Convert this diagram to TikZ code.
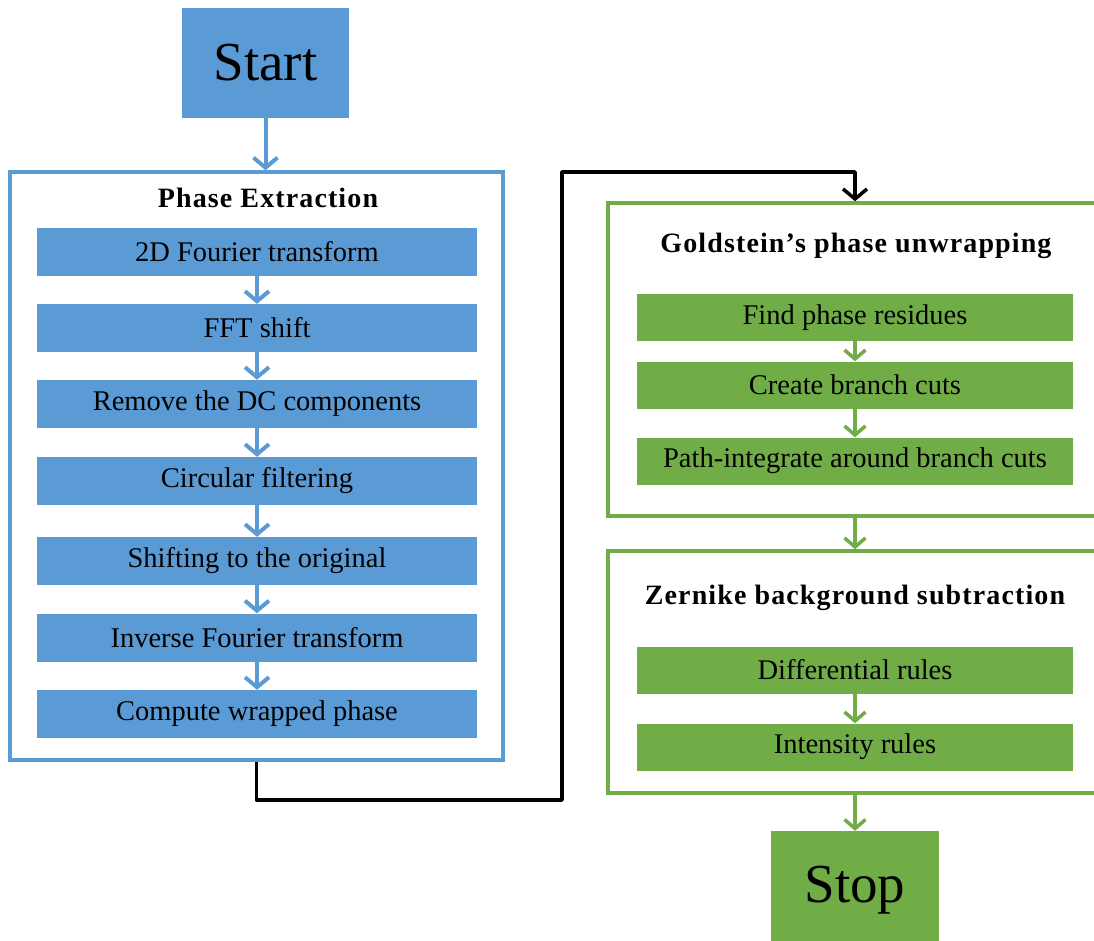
\documentclass[tikz,border=0pt]{standalone}
\usepackage{fontspec}
\setmainfont{Liberation Serif}
\usetikzlibrary{arrows.meta}
\definecolor{pblue}{HTML}{5B9BD5}
\definecolor{pgreen}{HTML}{70AD47}

\tikzset{
  stepbox/.style={draw=none, inner sep=0pt, minimum height=48pt,
    font=\fontsize{28.5}{32}\selectfont},
  bluestep/.style={stepbox, fill=pblue, minimum width=440pt},
  greenstep/.style={stepbox, fill=pgreen, minimum width=436pt, minimum height=47pt},
  frame/.style={line width=3.5pt, fill=white, inner sep=0pt},
  endbox/.style={inner sep=0pt, font=\fontsize{55}{60}\selectfont},
  heading/.style={inner sep=0pt,
    font=\fontsize{28}{32}\selectfont\bfseries\addfontfeature{LetterSpace=4}},
  barrow/.style={draw=pblue, line width=4pt, -{Straight Barb[length=10pt,width=24pt]}},
  garrow/.style={draw=pgreen, line width=3.5pt, -{Straight Barb[length=9pt,width=21pt]}},
  karrow/.style={draw=black, line width=3.5pt, line join=round,
    -{Straight Barb[length=10pt,width=24pt]}}
}

\begin{document}
\begin{tikzpicture}[x=1pt,y=-1pt]
\useasboundingbox (0,0) rectangle (1094,940);
\clip (0,0) rectangle (1094,940);

% start and the phase-extraction frame
\node[endbox, fill=pblue, minimum width=167pt, minimum height=110pt] (start) at (265.5,63) {Start};
\node[frame, draw=pblue, minimum width=493pt, minimum height=588pt] (outer) at (256.5,466) {};
\node[heading] (ttlA) at (268,198) {Phase Extraction};

\node[bluestep] (b1) at (257,251.5) {2D Fourier transform};
\node[bluestep] (b2) at (257,328) {FFT shift};
\node[bluestep] (b3) at (257,404) {Remove the DC components};
\node[bluestep] (b4) at (257,481) {Circular filtering};
\node[bluestep] (b5) at (257,561) {Shifting to the original};
\node[bluestep] (b6) at (257,637.5) {Inverse Fourier transform};
\node[bluestep] (b7) at (257,714) {Compute wrapped phase};

% unwrapping and background frames
\node[frame, draw=pgreen, minimum width=494pt, minimum height=313pt] (g1) at (855,359.5) {};
\node[heading] (ttlB) at (856,246) {Goldstein’s phase unwrapping};
\node[greenstep] (gs1) at (855,317.5) {Find phase residues};
\node[greenstep] (gs2) at (855,385) {Create branch cuts};
\node[greenstep] (gs3) at (855,461) {Path-integrate around branch cuts};

\node[frame, draw=pgreen, minimum width=494pt, minimum height=242pt] (g2) at (855,672) {};
\node[heading] (ttlC) at (855,598) {Zernike background subtraction};
\node[greenstep] (gs4) at (855,670) {Differential rules};
\node[greenstep] (gs5) at (855,747) {Intensity rules};

\node[endbox, fill=pgreen, minimum width=168pt, minimum height=119pt] (stop) at (855,890.5) {Stop};

% connectors
\draw[barrow] (start.south) -- (start.south |- outer.north);
\foreach \a/\b in {b1/b2,b2/b3,b3/b4,b4/b5,b5/b6,b6/b7}
  \draw[barrow] (\a) -- (\b);

\coordinate (k2) at (562,800);
\coordinate (k3) at (562,172);
\draw[karrow] (outer.south) |- (k2) -- (k3) -| (g1.north);

\draw[garrow] (gs1) -- (gs2);
\draw[garrow] (gs2) -- (gs3);
\draw[garrow] (g1.south) -- (g2.north);
\draw[garrow] (gs4) -- (gs5);
\draw[garrow] (g2.south) -- (stop.north);
\end{tikzpicture}
\end{document}
